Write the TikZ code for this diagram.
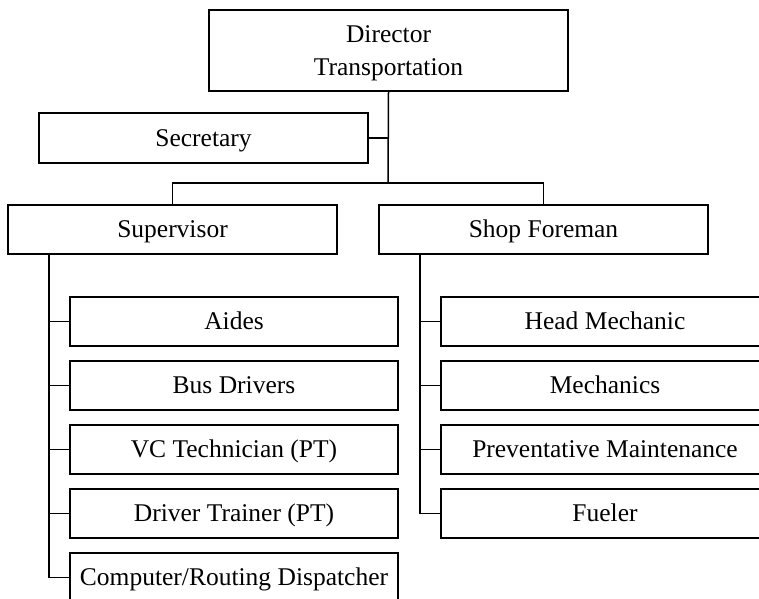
\documentclass[tikz,border=0pt]{standalone}
\usepackage{fontspec}
\setmainfont{Liberation Serif}
\begin{document}
\begin{tikzpicture}[x=1pt,y=-1pt,
  lbl/.style={inner sep=0pt,text height=16.5pt,text depth=0pt,
    font=\fontsize{25.5}{30}\selectfont},
  box/.style={lbl,draw,line width=1.5pt},
  wide/.style={box,minimum width=329pt,minimum height=49pt},
  staff/.style={wide,minimum width=328pt},
  link/.style={line width=1.5pt}]
\clip (0,0) rectangle (759,598);
\fill[white] (0,0) rectangle (759,598);

% top of the tree
\node[box,minimum width=359pt,minimum height=81pt] (dir) at (388.5,50.5) {};
\node[lbl] (dirA) at (388.5,34) {Director};
\node[lbl] (dirB) at (388.5,67) {Transportation};
\node[wide,minimum height=50pt] (sec) at (203.5,138) {Secretary};
\node[wide] (sup) at (172.5,229.5) {Supervisor};
\node[wide] (shop) at (543.5,229.5) {Shop Foreman};

% staff under the supervisor
\node[staff] (a1) at (234,321.5) {Aides};
\node[staff] (a2) at (234,385.5) {Bus Drivers};
\node[staff] (a3) at (234,449.5) {VC Technician (PT)};
\node[staff] (a4) at (234,513.5) {Driver Trainer (PT)};
\node[staff] (a5) at (234,577.5) {Computer/Routing Dispatcher};

% staff under the shop foreman
\node[staff] (b1) at (605,321.5) {Head Mechanic};
\node[staff] (b2) at (605,385.5) {Mechanics};
\node[staff] (b3) at (605,449.5) {Preventative Maintenance};
\node[staff] (b4) at (605,513.5) {Fueler};

% connectors
\coordinate (bar) at (388,183);
\coordinate (ls) at (49,0);
\coordinate (rs) at (420,0);
\draw[link] (dir.south) -- (bar);
\draw[link] (sec.east) -- (sec.east -| dir.south);
\draw[link] (sup.north) -- (sup.north |- bar) -- (shop.north |- bar) -- (shop.north);

\draw[link] (ls |- sup.south) -- (ls |- a5.west) -- (a5.west);
\foreach \i in {1,2,3,4} \draw[link] (ls |- a\i.west) -- (a\i.west);

\draw[link] (rs |- shop.south) -- (rs |- b4.west) -- (b4.west);
\foreach \i in {1,2,3} \draw[link] (rs |- b\i.west) -- (b\i.west);
\end{tikzpicture}
\end{document}
